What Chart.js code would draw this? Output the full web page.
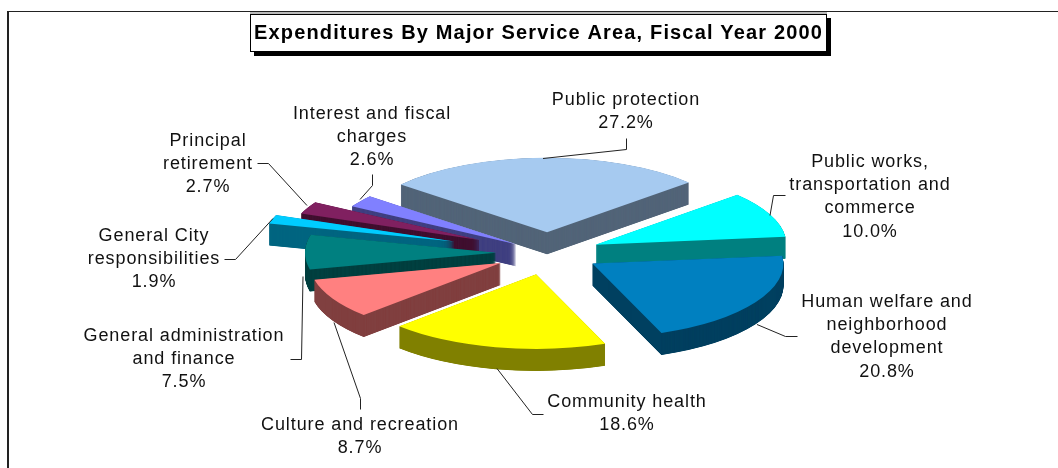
<!DOCTYPE html>
<html>
<head>
<meta charset="utf-8">
<title>Expenditures By Major Service Area</title>
<script src="https://cdn.jsdelivr.net/npm/chart.js@4"></script>
<style>
    html, body { margin: 0; padding: 0; background: #fff; overflow: hidden; }
    canvas { display: block; }
</style>
</head>
<body>
<canvas id="pieChart" width="1058" height="468"></canvas>
<script>
const chartTitle = 'Expenditures By Major Service Area, Fiscal Year 2000';

const categories = [
    ['Public protection'],
    ['Public works,', 'transportation and', 'commerce'],
    ['Human welfare and', 'neighborhood', 'development'],
    ['Community health'],
    ['Culture and recreation'],
    ['General administration', 'and finance'],
    ['General City', 'responsibilities'],
    ['Principal', 'retirement'],
    ['Interest and fiscal', 'charges'],
];
const percentages = [27.2, 10.0, 20.8, 18.6, 8.7, 7.5, 1.9, 2.7, 2.6];

const faceColors = ['#A6CAF0', '#00FFFF', '#0080C0', '#FFFF00', '#FF8080', '#008080', '#00CCFF', '#802060', '#8080FF'];
const sideColors = ['#536579', '#008080', '#004060', '#808000', '#804040', '#004040', '#006680', '#401030', '#404080'];

// how far each slice is pulled out of the pie, in px before the tilt
const explode = [53, 52, 52, 56, 54, 52, 98, 76, 39];
// back to front, so nearer slices cover the walls behind them
const paintOrder = [0, 8, 7, 6, 1, 5, 2, 4, 3];

const TILT = 0.39;
const DEPTH = 22;

// label centre x, first baseline, leader polyline
const labelLayout = [
    { x: 626, y: 105, leader: [[543, 158], [626, 149], [626, 138]] },
    { x: 870, y: 167, leader: [[770, 215], [773, 195], [785, 195]] },
    { x: 887, y: 307, leader: [[757, 324], [785, 336], [797, 336]] },
    { x: 627, y: 407, leader: [[497, 368], [532, 414], [543, 414]] },
    { x: 360, y: 430, leader: [[334, 322], [360, 398], [360, 409]] },
    { x: 184, y: 341, leader: [[303, 276], [301, 359], [290, 359]] },
    { x: 154, y: 241, leader: [[273, 218], [235, 259], [224, 259]] },
    { x: 208, y: 146, leader: [[307, 205], [268, 163], [257, 163]] },
    { x: 372, y: 119, leader: [[360, 199], [372, 185], [372, 174]] },
];

const LINE_HEIGHT = 23.2;
const labelFont = '18px "Liberation Sans", Arial, sans-serif';
const titleFont = 'bold 20px "Liberation Sans", Arial, sans-serif';

// draws one arc squashed and shifted, with the given fill
function drawSlice(ctx, arc, index, fill, drop) {
    const mid = (arc.startAngle + arc.endAngle) / 2;
    const saved = arc.options;
    arc.options = Object.assign({}, saved, { backgroundColor: fill, borderWidth: 0 });
    ctx.save();
    ctx.translate(arc.x, arc.y + drop);
    ctx.scale(1, TILT);
    ctx.translate(-arc.x, -arc.y);
    ctx.translate(Math.cos(mid) * explode[index], Math.sin(mid) * explode[index]);
    arc.draw(ctx);
    ctx.restore();
    arc.options = saved;
}

const tiltedPie = {
    id: 'tiltedPie',
    beforeDraw(chart) {
        const ctx = chart.ctx;
        ctx.save();
        ctx.fillStyle = '#fff';
        ctx.fillRect(0, 0, chart.width, chart.height);
        // outer frame, only top and left are in view
        ctx.fillStyle = '#222';
        ctx.fillRect(7, 11, 1051, 1);
        ctx.fillRect(7, 11, 2, chart.height - 11);
        ctx.restore();
    },
    beforeDatasetDraw(chart, args) {
        const ctx = chart.ctx;
        const arcs = chart.getDatasetMeta(args.index).data;
        paintOrder.forEach((i) => {
            // small steps keep the thin tips of the walls solid
            for (let d = DEPTH; d > 0; d -= 0.25) {
                drawSlice(ctx, arcs[i], i, sideColors[i], d);
            }
            drawSlice(ctx, arcs[i], i, faceColors[i], 0);
        });
        return false;
    },
    afterDraw(chart) {
        const ctx = chart.ctx;
        ctx.save();

        // title box with its hard shadow
        ctx.fillStyle = '#000';
        ctx.fillRect(254, 18, 577, 38);
        ctx.fillStyle = '#bbb';
        ctx.fillRect(250, 12, 577, 2);
        ctx.fillStyle = '#fff';
        ctx.strokeStyle = '#000';
        ctx.lineWidth = 1;
        ctx.fillRect(250.5, 14.5, 576, 37);
        ctx.strokeRect(250.5, 14.5, 576, 37);
        ctx.fillStyle = '#000';
        ctx.font = titleFont;
        ctx.letterSpacing = '1.15px';
        ctx.textAlign = 'center';
        ctx.textBaseline = 'alphabetic';
        ctx.fillText(chartTitle, 538.5, 39);

        // leaders
        ctx.strokeStyle = '#222';
        ctx.lineWidth = 1;
        labelLayout.forEach((item) => {
            ctx.beginPath();
            item.leader.forEach(([x, y], n) => {
                if (n === 0) ctx.moveTo(x, y + 0.5);
                else ctx.lineTo(x + 0.5, y + 0.5);
            });
            ctx.stroke();
        });

        // labels
        ctx.fillStyle = '#111';
        ctx.font = labelFont;
        ctx.letterSpacing = '0.9px';
        categories.forEach((lines, i) => {
            const { x, y } = labelLayout[i];
            lines.concat(percentages[i].toFixed(1) + '%').forEach((line, n) => {
                ctx.fillText(line, x, y + n * LINE_HEIGHT);
            });
        });
        ctx.restore();
    },
};

new Chart(document.getElementById('pieChart').getContext('2d'), {
    type: 'pie',
    data: {
        labels: categories.map((lines) => lines.join(' ')),
        datasets: [{ data: percentages, backgroundColor: faceColors, borderWidth: 0 }],
    },
    options: {
        responsive: false,
        animation: false,
        rotation: -50,
        radius: 191,
        layout: { padding: { left: 38, top: 38 } },
        plugins: {
            legend: { display: false },
            tooltip: { enabled: false },
            title: { display: false },
        },
    },
    plugins: [tiltedPie],
});
</script>
</body>
</html>
